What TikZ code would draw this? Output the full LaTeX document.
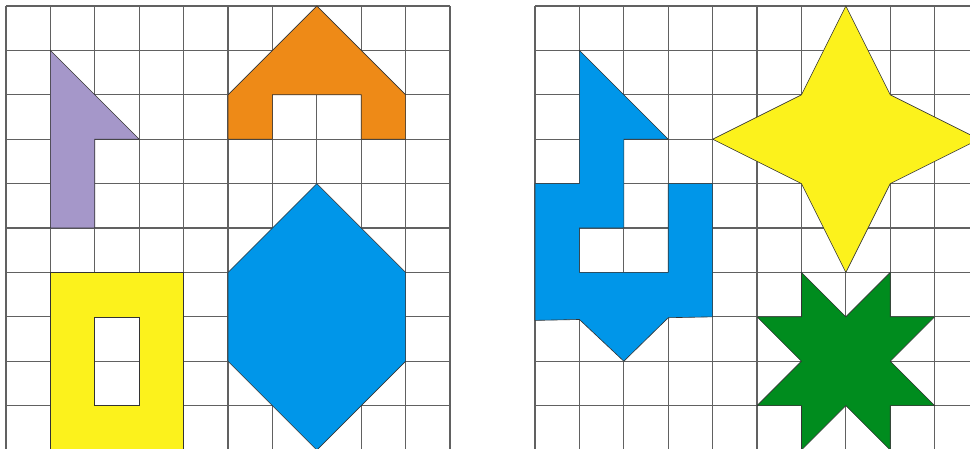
\documentclass[tikz,border=0pt]{standalone}
\definecolor{lilac}{HTML}{A597C9}
\definecolor{tangerine}{HTML}{EE8A17}
\definecolor{skyblue}{HTML}{0096E9}
\definecolor{lemon}{HTML}{FCF21C}
\definecolor{leaf}{HTML}{008C1E}
\tikzset{
  gridline/.style={draw=black!62, line width=0.8pt},
  piece/.style={draw=black!80, line width=0.4pt, line join=miter}
}
\begin{document}
\begin{tikzpicture}[x=1cm,y=-1cm]
\def\gap{11.914}
\clip (-0.135,-0.135) rectangle (21.71,9.955);
\fill[white] (-0.135,-0.135) rectangle (21.71,9.955);

% two squared sheets, 10 by 10
\foreach \sx in {0,\gap} {
  \draw[gridline,xshift=\sx cm] (0,0) grid (10,10);
}

% left sheet
\filldraw[piece,fill=lilac] (1,1) -- (3,3) -- (2,3) -- (2,5) -- (1,5) -- cycle;
\filldraw[piece,fill=tangerine] (7,0) -- (9,2) -- (9,3) -- (8,3) -- (8,2)
  -- (6,2) -- (6,3) -- (5,3) -- (5,2) -- cycle;
\filldraw[piece,fill=skyblue] (7,4) -- (9,6) -- (9,8) -- (7,10) -- (5,8) -- (5,6) -- cycle;
%frame with a hole:
\filldraw[piece,fill=lemon,even odd rule] (1,6) rectangle (4,10.2) (2,7) rectangle (3,9);

% right sheet
\begin{scope}[xshift=\gap cm]
\filldraw[piece,fill=skyblue] (1,1) -- (3,3) -- (2,3) -- (2,5) -- (1,5) -- (1,6)
  -- (3,6) -- (3,4) -- (4,4) -- (4,7) -- (3,7.02) -- (2,8) -- (1,7.06)
  -- (0,7.08) -- (0,4) -- (1,4) -- cycle;
\filldraw[piece,fill=lemon] (7,0) -- (8,2) -- (10,3) -- (8,4) -- (7,6)
  -- (6,4) -- (4,3) -- (6,2) -- cycle;
%eight-pointed star:
\filldraw[piece,fill=leaf] (6,6) -- (7,7) -- (8,6) -- (8,7) -- (9,7) -- (8,8)
  -- (9,9) -- (8,9) -- (8,10) -- (7,9) -- (6,10) -- (6,9) -- (5,9) -- (6,8)
  -- (5,7) -- (6,7) -- cycle;
\end{scope}
\end{tikzpicture}
\end{document}
